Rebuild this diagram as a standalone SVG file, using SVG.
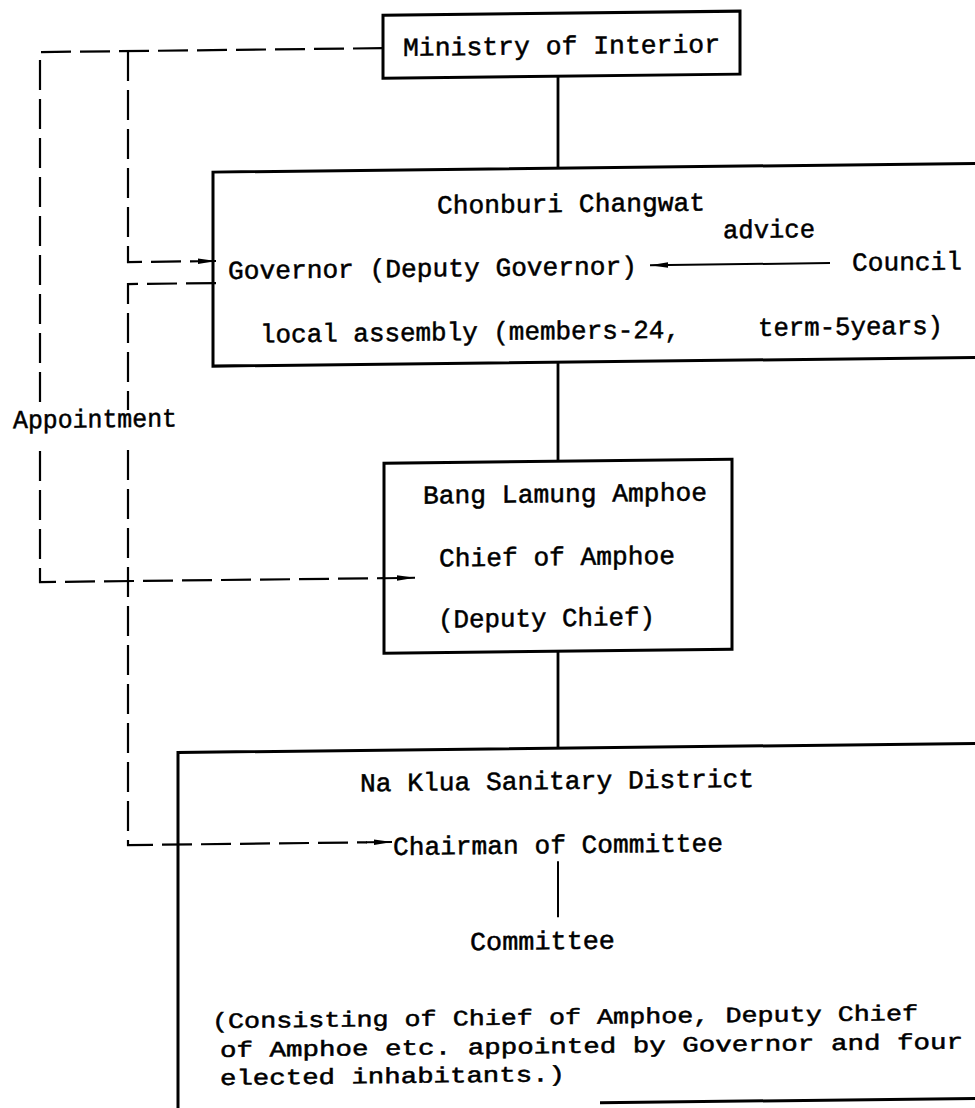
<svg xmlns="http://www.w3.org/2000/svg" width="975" height="1108" viewBox="0 0 975 1108">
<defs>
<marker id="ah" markerUnits="userSpaceOnUse" markerWidth="18" markerHeight="8" viewBox="0 0 18 8" refX="18" refY="4" orient="auto">
<path d="M0,1.2 L18,4 L0,6.8 z" fill="#000"/>
</marker>
<style>
.box{fill:none;stroke:#000;stroke-width:3}
.ln{fill:none;stroke:#000;stroke-width:2.8}
.thin{fill:none;stroke:#000;stroke-width:2}
.dash{fill:none;stroke:#000;stroke-width:2.2;stroke-dasharray:30 9}
.t{font-family:"Liberation Mono","Courier New",monospace;font-size:26px;fill:#000;stroke:#000;stroke-width:0.5}
.p{font-family:"Liberation Mono","Courier New",monospace;font-size:22px;fill:#000;stroke:#000;stroke-width:0.5}
</style>
</defs>
<rect width="975" height="1108" fill="#fff"/>
<g transform="translate(487,0) skewY(-0.65) translate(-487,0)">
<g id="connectors">
<path class="ln" d="M558,77 L558,169"/>
<path class="ln" d="M558,363 L558,462"/>
<path class="ln" d="M558,652 L558,749"/>
<path class="thin" d="M558,862 L558,918"/>
<path class="thin" d="M830,267 L650,267" marker-end="url(#ah)"/>
<path class="dash" d="M383,47 L40,47 L40,406"/>
<path class="dash" d="M40,446 L40,577 L384,577"/>
<path class="thin" d="M384,577 L415,577" marker-end="url(#ah)"/>
<path class="dash" d="M128,47 L128,258 L200,258"/>
<path class="thin" d="M198,258 L216,258" marker-end="url(#ah)"/>
<path class="dash" d="M216,280 L128,280 L128,406"/>
<path class="dash" d="M128,446 L128,841 L367,841"/>
<path class="thin" d="M366,841 L392,841" marker-end="url(#ah)"/>
<text class="t" x="13" y="423" textLength="164" lengthAdjust="spacingAndGlyphs">Appointment</text>
</g>
<g id="ministry">
<rect class="box" x="383" y="14" width="357" height="63"/>
<text class="t" x="403" y="55" textLength="317" lengthAdjust="spacingAndGlyphs">Ministry of Interior</text>
</g>
<g id="chonburi">
<path class="box" d="M995,169 L213,169 L213,363 L995,363"/>
<text class="t" x="437" y="213" textLength="268" lengthAdjust="spacingAndGlyphs">Chonburi Changwat</text>
<text class="t" x="723" y="241" textLength="92" lengthAdjust="spacingAndGlyphs">advice</text>
<text class="t" x="228" y="276" textLength="409" lengthAdjust="spacingAndGlyphs">Governor (Deputy Governor)</text>
<text class="t" x="852" y="275" textLength="110" lengthAdjust="spacingAndGlyphs">Council</text>
<text class="t" x="260" y="340" textLength="420" lengthAdjust="spacingAndGlyphs">local assembly (members-24,</text>
<text class="t" x="758" y="339" textLength="185" lengthAdjust="spacingAndGlyphs">term-5years)</text>
</g>
<g id="banglamung">
<rect class="box" x="384" y="462" width="348" height="190"/>
<text class="t" x="423" y="503" textLength="284" lengthAdjust="spacingAndGlyphs">Bang Lamung Amphoe</text>
<text class="t" x="439" y="566" textLength="236" lengthAdjust="spacingAndGlyphs">Chief of Amphoe</text>
<text class="t" x="438" y="627" textLength="217" lengthAdjust="spacingAndGlyphs">(Deputy Chief)</text>
</g>
<g id="naklua">
<path class="box" d="M995,749 L178,749 L178,1125"/>
<path class="box" d="M600,1104 L995,1104"/>
<text class="t" x="360" y="790" textLength="394" lengthAdjust="spacingAndGlyphs">Na Klua Sanitary District</text>
<text class="t" x="393" y="854" textLength="330" lengthAdjust="spacingAndGlyphs">Chairman of Committee</text>
<text class="t" x="470" y="950" textLength="145" lengthAdjust="spacingAndGlyphs">Committee</text>
<text class="p" x="212" y="1025" textLength="706" lengthAdjust="spacingAndGlyphs">(Consisting of Chief of Amphoe, Deputy Chief</text>
<text class="p" x="220" y="1054" textLength="743" lengthAdjust="spacingAndGlyphs">of Amphoe etc. appointed by Governor and four</text>
<text class="p" x="220" y="1082" textLength="345" lengthAdjust="spacingAndGlyphs">elected inhabitants.)</text>
</g>
</g>
</svg>
